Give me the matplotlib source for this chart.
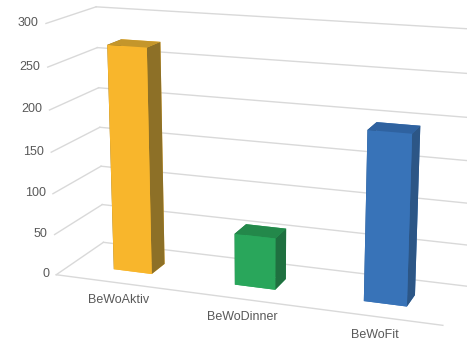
import matplotlib
matplotlib.use("Agg")
import matplotlib.pyplot as plt
import numpy as np

# ---- data ----
categories = ["BeWoAktiv", "BeWoDinner", "BeWoFit"]
values = [272, 62, 198]
z_ticks = [0, 50, 100, 150, 200, 250, 300]
front_colors = ["#F8B62C", "#29A65B", "#3873B8"]
side_colors = ["#8D7027", "#1F7040", "#2C5686"]
top_colors = ["#C4962B", "#23884A", "#2F62A0"]

plt.rcParams['font.family'] = ['Liberation Sans', 'DejaVu Sans']

fig = plt.figure(figsize=(4.67, 3.4), dpi=100)
ax = fig.add_axes([0.181, 0.026, 0.728, 1.0], projection='3d')
ax.computed_zorder = False

x0, x1 = -0.52, 2.48
y0, y1 = 0.0, 1.0
zmax = 300
ax.set_xlim(x0, x1)
ax.set_ylim(y0, y1)
ax.set_zlim(0, zmax)
ax.set_box_aspect((404, 110, 261), zoom=1.42)
ax.view_init(elev=15.2, azim=-70.2)
ax.set_proj_type('persp', focal_length=0.75)
ax.set_axis_off()

grid_c = "#D9D9D9"
for z in z_ticks:
    ax.plot([x0, x0], [y0, y1], [z, z], color=grid_c, lw=1.0, zorder=1, clip_on=False)
    ax.plot([x0, x1], [y1, y1], [z, z], color=grid_c, lw=1.0, zorder=1, clip_on=False)
    ax.text(x0 - 0.06, y0, z, str(z), ha='right', va='center',
            fontsize=9, color="#595959", zorder=5, clip_on=False)
ax.plot([x0, x1], [y0, y0], [0, 0], color=grid_c, lw=1.0, zorder=1, clip_on=False)

bw = 0.32
bd = 0.30
by = 0.32
for i, (v, fc, sc, tc) in enumerate(zip(values, front_colors, side_colors, top_colors)):
    # face order: -z, +z, -y, +y, -x, +x
    cols = [fc, tc, fc, fc, sc, sc]
    bars = ax.bar3d(i - bw / 2, by, 0, bw, bd, v, color=cols, shade=False,
                    edgecolor='none', linewidth=0, zorder=2 + i)
    bars.set_clip_on(False)
    ax.text(i, y0, -21, categories[i], ha='center', va='center',
            fontsize=9, color="#595959", zorder=5, clip_on=False)

fig.savefig("out.png", dpi=100)
